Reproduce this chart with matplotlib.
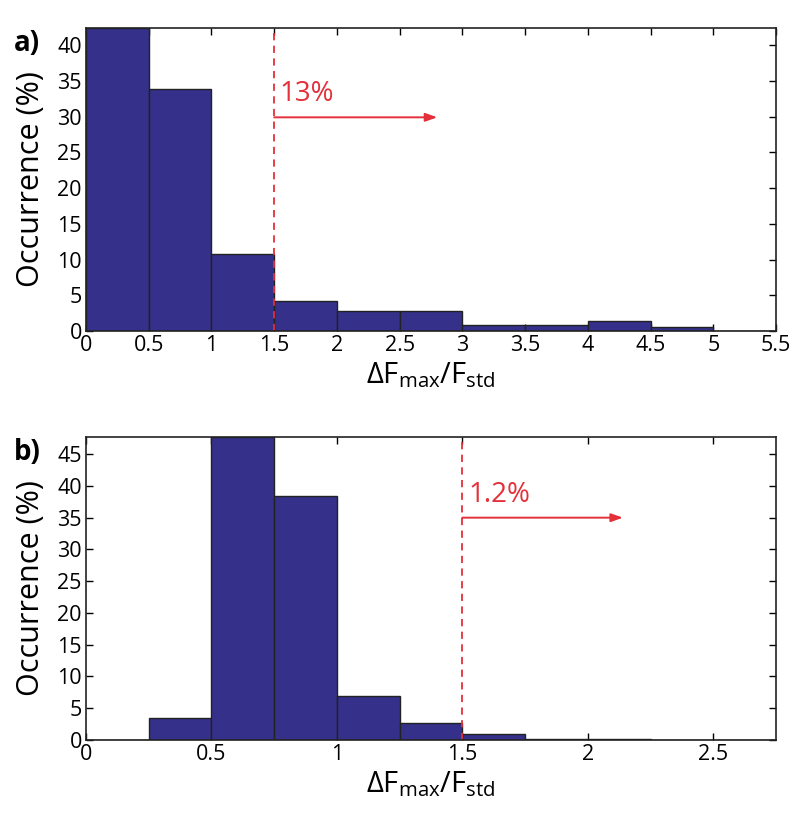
import numpy as np
import matplotlib
matplotlib.use("Agg")
import matplotlib.pyplot as plt

# ---- data ----
edges_a = [0, 0.5, 1, 1.5, 2, 2.5, 3, 3.5, 4, 4.5, 5, 5.5]
occ_a = [42.4, 33.8, 10.8, 4.2, 2.75, 2.75, 0.85, 0.85, 1.45, 0.57, 0.0]
edges_b = [0, 0.25, 0.5, 0.75, 1, 1.25, 1.5, 1.75, 2, 2.25, 2.5, 2.75]
occ_b = [0.0, 3.4, 47.7, 38.4, 6.85, 2.6, 0.95, 0.15, 0.1, 0.0, 0.0]
threshold = 1.5
label_a = "13%"
label_b = "1.2%"
xticks_a = [0, 0.5, 1, 1.5, 2, 2.5, 3, 3.5, 4, 4.5, 5, 5.5]
xticks_b = [0, 0.5, 1, 1.5, 2, 2.5]
yticks_a = [0, 5, 10, 15, 20, 25, 30, 35, 40]
yticks_b = [0, 5, 10, 15, 20, 25, 30, 35, 40, 45]

plt.rcParams['font.family'] = ['Open Sans', 'DejaVu Sans']
plt.rcParams['mathtext.fontset'] = 'custom'
plt.rcParams['mathtext.rm'] = 'Open Sans'
plt.rcParams['mathtext.it'] = 'Open Sans'

bar_color = '#35308A'
red = '#E3303A'

fig = plt.figure(figsize=(8.02, 8.25), dpi=100)
W, H = 802, 825

def make_ax(top_px, bot_px):
    return fig.add_axes([86 / W, (H - bot_px) / H, 690 / W, (bot_px - top_px) / H])

ax_a = make_ax(28, 331)
ax_b = make_ax(437, 740)

def style(ax, edges, occ, xticks, yticks, ymax, panel, pct, arrow_y, arrow_end, text_y):
    widths = np.diff(edges)
    ax.bar(edges[:-1], occ, width=widths, align='edge', color=bar_color,
           edgecolor='#222222', linewidth=1.0, zorder=2)
    ax.set_xlim(edges[0], edges[-1])
    ax.set_ylim(0, ymax)
    ax.set_xticks(xticks)
    ax.set_xticklabels([f"{t:g}" for t in xticks])
    ax.set_yticks(yticks)
    ax.tick_params(direction='in', top=True, right=True, length=5, width=1,
                   labelsize=15.5, pad=3)
    for s in ax.spines.values():
        s.set_linewidth(1.2)
        s.set_color('#222222')
        s.set_zorder(5)
    ax.axvline(threshold, color=red, linestyle=(0, (4, 3)), linewidth=1.3, zorder=4)
    ax.annotate('', xy=(arrow_end, arrow_y), xytext=(threshold, arrow_y),
                arrowprops=dict(arrowstyle='-|>,head_length=0.7,head_width=0.25',
                                color=red, lw=1.4, shrinkA=0, shrinkB=0), zorder=4)
    ax.text(threshold + 0.045 * (edges[-1] - edges[0]) / 5.5, text_y, pct,
            color=red, fontsize=20, ha='left', va='center')
    ax.set_ylabel('Occurrence (%)', fontsize=22, labelpad=8)
    ax.set_xlabel(r'$\Delta\mathrm{F}_{\mathrm{max}}/\mathrm{F}_{\mathrm{std}}$',
                  fontsize=21, labelpad=3)
    ax.text(-0.105, 0.95, panel, transform=ax.transAxes, fontsize=20,
            fontweight='bold', ha='left', va='center')

style(ax_a, edges_a, occ_a, xticks_a, yticks_a, 42.4, 'a)', label_a, 29.9, 2.8, 33.1)
style(ax_b, edges_b, occ_b, xticks_b, yticks_b, 47.7, 'b)', label_b, 35.0, 2.14, 38.5)

fig.savefig('out.png', dpi=100)
